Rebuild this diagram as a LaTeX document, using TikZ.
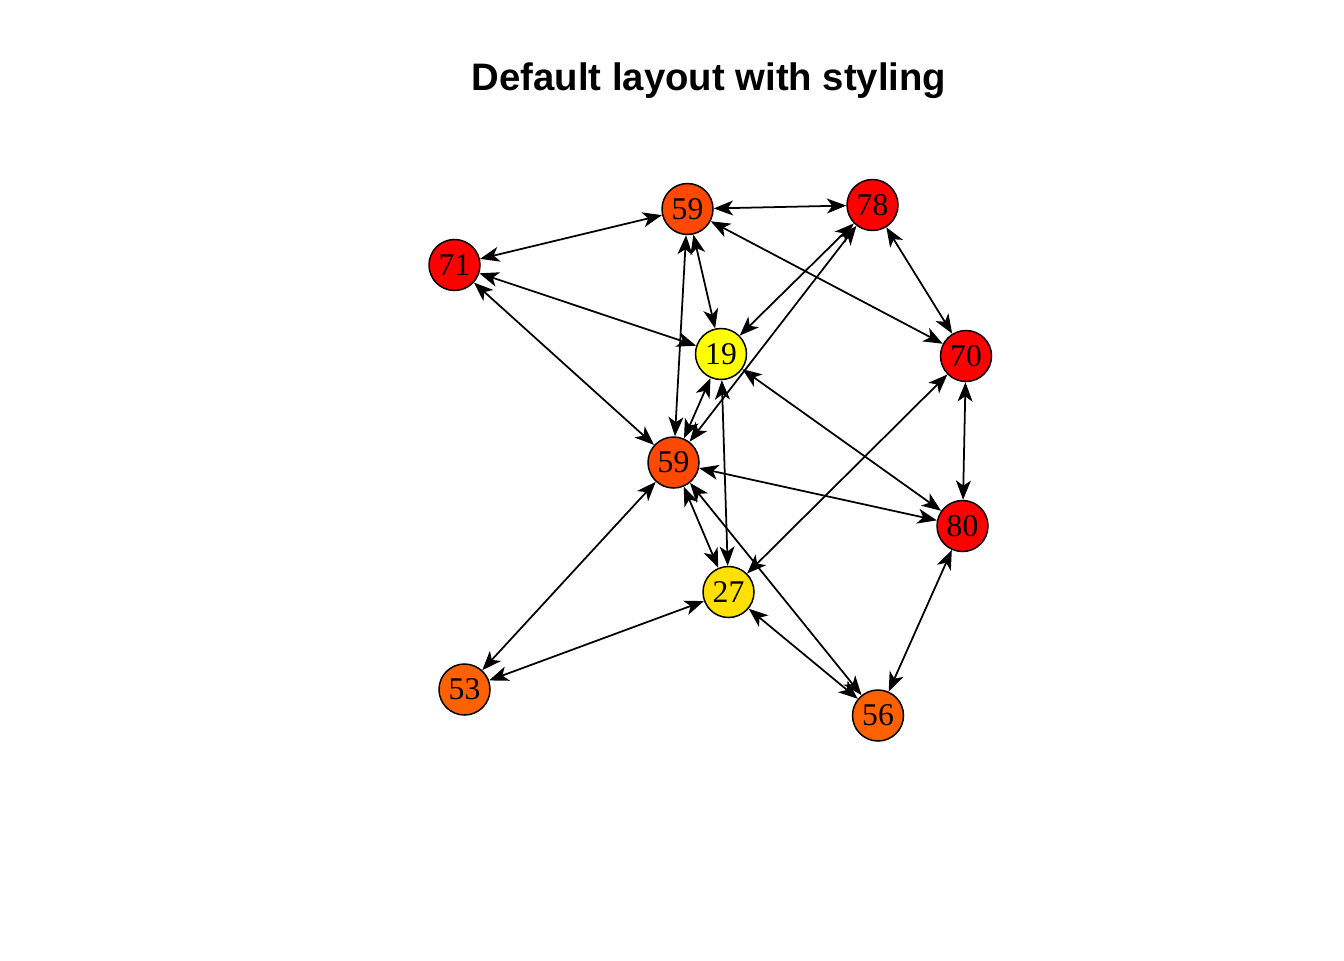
\documentclass[tikz,border=0pt]{standalone}
\usepackage{fontspec}
\setmainfont{Liberation Serif}
\newfontfamily\titlefont{Liberation Sans}
\usepackage{tikz}
\usetikzlibrary{arrows.meta}
\definecolor{hotred}{RGB}{255,0,0}
\definecolor{hotorange}{RGB}{255,72,0}
\definecolor{warmorange}{RGB}{255,96,0}
\definecolor{warmyellow}{RGB}{255,224,0}
\definecolor{coolyellow}{RGB}{255,255,0}
\tikzstyle{vertex} = [circle, minimum size=1.02cm, inner sep=0pt, draw=black, line width=0.85pt, font=\fontsize{18}{20}\selectfont]
\tikzstyle{edge} = [line width=1pt, {Stealth[length=11pt,width=8.5pt,inset=3pt]}-{Stealth[length=11pt,width=8.5pt,inset=3pt]}]

\begin{document}
\begin{tikzpicture}[x=0.02cm, y=-0.02cm]
        \useasboundingbox (0,0) rectangle (1344,960);
        \node (title) at (709,81) {\titlefont\bfseries\fontsize{21.8}{26}\selectfont Default layout with styling};
        % vertices
        \node (v59a) [vertex, fill=hotorange] at (687.5,209) {59};
        \node (v78) [vertex, fill=hotred] at (872.5,205) {78};
        \node (v71) [vertex, fill=hotred] at (454.5,265) {71};
        \node (v19) [vertex, fill=coolyellow] at (721,354) {19};
        \node (v70) [vertex, fill=hotred] at (966,356) {70};
        \node (v59b) [vertex, fill=hotorange] at (673.5,462.5) {59};
        \node (v80) [vertex, fill=hotred] at (962.5,526) {80};
        \node (v27) [vertex, fill=warmyellow] at (728.5,592) {27};
        \node (v53) [vertex, fill=warmorange] at (464.5,689.5) {53};
        \node (v56) [vertex, fill=warmorange] at (878,715.5) {56};
        % edges
        \draw [edge] (v59a) -- (v78);
        \draw [edge] (v59a) -- (v71);
        \draw [edge] (v59a) -- (v19);
        \draw [edge] (v59a) -- (v59b);
        \draw [edge] (v59a) -- (v70);
        \draw [edge] (v78) -- (v19);
        \draw [edge] (v78) -- (v59b);
        \draw [edge] (v78) -- (v70);
        \draw [edge] (v71) -- (v19);
        \draw [edge] (v71) -- (v59b);
        \draw [edge] (v19) -- (v59b);
        \draw [edge] (v19) -- (v27);
        \draw [edge] (v19) -- (v80);
        \draw [edge] (v70) -- (v80);
        \draw [edge] (v70) -- (v27);
        \draw [edge] (v59b) -- (v80);
        \draw [edge] (v59b) -- (v27);
        \draw [edge] (v59b) -- (v53);
        \draw [edge] (v59b) -- (v56);
        \draw [edge] (v27) -- (v53);
        \draw [edge] (v27) -- (v56);
        \draw [edge] (v80) -- (v56);
    \end{tikzpicture}
\end{document}
